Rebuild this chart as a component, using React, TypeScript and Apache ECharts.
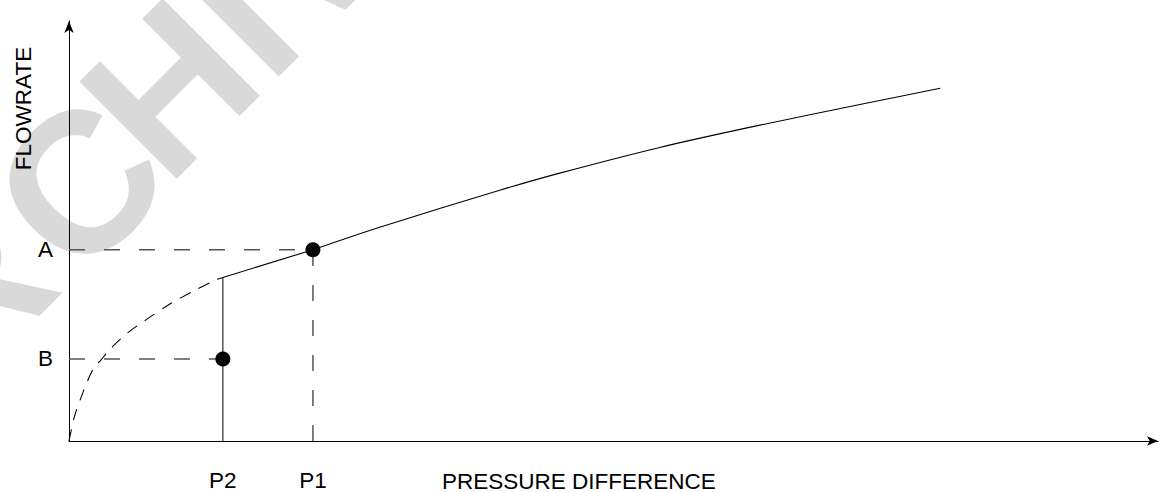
import React, { useEffect, useRef } from 'react';
import * as echarts from 'echarts';

// Axis marks (arbitrary units: x 0..100, y 0..100)
const xLabelNames = ['P2', 'P1'];
const xLabelValues = [14.13, 22.4];
const yLabelNames = ['B', 'A'];
const yLabelValues = [19.55, 45.54];
const kneeFlow = 38.95;

// Dashed extrapolated curve from origin up to the knee at P2
const dashedCurve: [number, number][] = [
  [0, 0], [0.51, 5.9], [1.27, 11.46], [2.19, 17.0], [2.96, 19.38], [4.02, 22.54],
  [5.56, 26.11], [7.09, 28.89], [9.16, 32.46], [11.37, 35.62], [13.37, 38.24], [14.13, 38.95],
];

// Straight segment from knee to point A at P1
const kneeSegment: [number, number][] = [[14.13, 38.95], [22.4, 45.54]];

// Main solid curve
const mainCurve: [number, number][] = [
  [22.4, 45.54], [28.53, 50.9], [39.55, 59.7], [45.06, 63.78], [54.25, 69.9],
  [63.44, 75.2], [72.62, 80.1], [80.0, 84.0],
];

const xTitle = 'PRESSURE DIFFERENCE';
const yTitle = 'FLOWRATE';
// Watermark "ARCHIVE", set in three pieces along one rotated baseline
const watermarkPieces = ['AR', 'C', 'HIVE'];

const FONT = '"Liberation Sans", Arial, Helvetica, sans-serif';

export default function App() {
  const ref = useRef<HTMLDivElement>(null);
  useEffect(() => {
    if (!ref.current) return;
    const chart = echarts.init(ref.current, null, { renderer: 'svg' });
    const [p2, p1] = xLabelValues;
    const [b, a] = yLabelValues;
    const guideStyle = { color: '#555', width: 1.5, type: [16, 19] as number[] };
    const lineBase = { type: 'line' as const, showSymbol: false, silent: true, animation: false };
    const wmPos: [number, number][] = [[-188, 445], [28, 235], [118, 139]];
    const wm = watermarkPieces.map((t, i) => ({
      type: 'text', x: wmPos[i][0], y: wmPos[i][1], rotation: Math.PI / 4, z: -10, silent: true,
      style: {
        text: t, fontSize: 200, fontWeight: 'bold', fontFamily: FONT, fill: '#d9d9d9',
        align: 'left', verticalAlign: 'middle', textAlign: 'left', textVerticalAlign: 'middle',
      },
    }));
    chart.setOption({
      animation: false,
      grid: { left: 69, right: 6, top: 21, bottom: 50 },
      graphic: [
        ...wm,
        {
          type: 'text', x: 23, y: 108.5, rotation: Math.PI / 2, z: 10,
          style: {
            text: yTitle, fontSize: 22.5, fontFamily: FONT, fill: '#000',
            align: 'center', verticalAlign: 'middle', textAlign: 'center', textVerticalAlign: 'middle',
          },
        },
        {
          type: 'text', x: 442, y: 481, z: 10,
          style: {
            text: xTitle, fontSize: 22.5, fontFamily: FONT, fill: '#000',
            align: 'left', verticalAlign: 'middle', textAlign: 'left', textVerticalAlign: 'middle',
          },
        },
      ],
      xAxis: {
        type: 'value', min: 0, max: 100,
        splitLine: { show: false },
        axisTick: { show: false },
        axisLine: { show: true, onZero: false, symbol: ['none', 'arrow'], symbolSize: [7, 11], lineStyle: { color: '#000', width: 1 } },
        axisLabel: {
          customValues: xLabelValues,
          formatter: (v: number) => xLabelNames[xLabelValues.indexOf(v)] ?? '',
          color: '#000', fontSize: 22.5, fontFamily: FONT, margin: 28,
        },
      },
      yAxis: {
        type: 'value', min: 0, max: 100,
        splitLine: { show: false },
        axisTick: { show: false },
        axisLine: { show: true, onZero: false, symbol: ['none', 'arrow'], symbolSize: [7, 12], lineStyle: { color: '#000', width: 1 } },
        axisLabel: {
          customValues: yLabelValues,
          formatter: (v: number) => yLabelNames[yLabelValues.indexOf(v)] ?? '',
          color: '#000', fontSize: 22.5, fontFamily: FONT, margin: 16,
        },
      },
      series: [
        { ...lineBase, name: 'guide A', data: [[0, a], [p1, a]], lineStyle: guideStyle },
        { ...lineBase, name: 'guide P1', data: [[p1, 0], [p1, a]], lineStyle: guideStyle },
        { ...lineBase, name: 'guide B', data: [[0, b], [p2, b]], lineStyle: guideStyle },
        { ...lineBase, name: 'P2 drop', data: [[p2, 0], [p2, kneeFlow]], lineStyle: { color: '#000', width: 1 } },
        { ...lineBase, name: 'extrapolated', data: dashedCurve, smooth: 0.3, lineStyle: { color: '#000', width: 1.1, type: [12, 9] } },
        { ...lineBase, name: 'knee', data: kneeSegment, lineStyle: { color: '#000', width: 1.1 } },
        { ...lineBase, name: 'flow', data: mainCurve, smooth: 0.3, lineStyle: { color: '#000', width: 1.1 } },
        {
          type: 'scatter', name: 'points', data: [[p1, a], [p2, b]], symbolSize: 15,
          itemStyle: { color: '#000', opacity: 1 }, silent: true, z: 5,
        },
      ],
    });
    return () => chart.dispose();
  }, []);
  return <div ref={ref} style={{ position: 'absolute', left: 0, top: 0, width: 1164, height: 492 }} />;
}
